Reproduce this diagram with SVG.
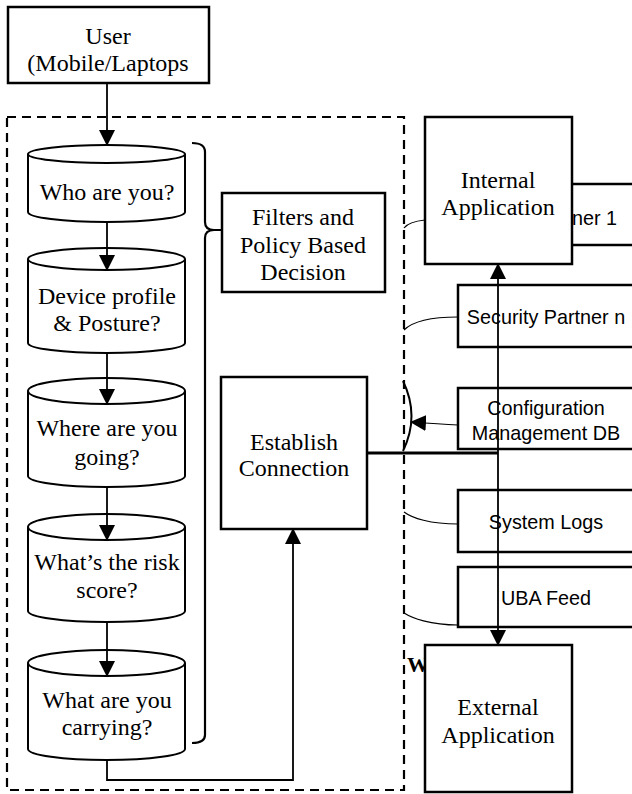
<svg xmlns="http://www.w3.org/2000/svg" width="632" height="794" viewBox="0 0 632 794">
<style>
.box{fill:#fff;stroke:#000;stroke-width:2.5}
.cyl{fill:#fff;stroke:#000;stroke-width:2}
.t{font-family:"Liberation Serif","Times New Roman",serif;font-size:24px;fill:#000;text-anchor:middle}
.s{font-family:"Liberation Sans",Arial,sans-serif;font-size:19.8px;fill:#000;text-anchor:middle}
.ln{fill:none;stroke:#000;stroke-width:1.8}
.thin{fill:none;stroke:#000;stroke-width:1.2}
</style>
<defs>
<marker id="ah" markerUnits="userSpaceOnUse" markerWidth="16" markerHeight="16" viewBox="0 0 16 16" refX="15" refY="8" orient="auto">
<path d="M0,0 L16,8 L0,16 Z" fill="#000"/>
</marker>
</defs>
<rect x="7" y="117" width="397" height="673" fill="none" stroke="#000" stroke-width="2.2" stroke-dasharray="9,6"/>
<g id="user"><rect class="box" x="8" y="7" width="201" height="76"/><text class="t" x="108" y="44">User</text><text class="t" x="108" y="71">(Mobile/Laptops</text></g>
<g id="cyl1"><path class="cyl" d="M28,154 A78.5,9 0 0 1 185,154 V212 A78.5,10 0 0 1 28,212 Z M28,154 A78.5,9 0 0 0 185,154"/><text class="t" x="107" y="200">Who are you?</text></g>
<g id="cyl2"><path class="cyl" d="M28,259 A78.5,11 0 0 1 185,259 V343 A78.5,10 0 0 1 28,343 Z M28,259 A78.5,11 0 0 0 185,259"/><text class="t" x="107" y="304">Device profile</text><text class="t" x="107" y="331">&amp; Posture?</text></g>
<g id="cyl3"><path class="cyl" d="M28,391 A78.5,13 0 0 1 185,391 V476 A78.5,11 0 0 1 28,476 Z M28,391 A78.5,13 0 0 0 185,391"/><text class="t" x="107" y="436">Where are you</text><text class="t" x="107" y="465">going?</text></g>
<g id="cyl4"><path class="cyl" d="M28,527 A78.5,13 0 0 1 185,527 V611 A78.5,11 0 0 1 28,611 Z M28,527 A78.5,13 0 0 0 185,527"/><text class="t" x="107" y="570">What’s the risk</text><text class="t" x="107" y="598">score?</text></g>
<g id="cyl5"><path class="cyl" d="M28,663 A78.5,13 0 0 1 185,663 V749 A78.5,11 0 0 1 28,749 Z M28,663 A78.5,13 0 0 0 185,663"/><text class="t" x="107" y="708">What are you</text><text class="t" x="107" y="735">carrying?</text></g>
<g id="filters"><rect class="box" x="222" y="193" width="163" height="99"/><text class="t" x="303" y="225">Filters and</text><text class="t" x="303" y="253">Policy Based</text><text class="t" x="303" y="280">Decision</text></g>
<g id="establish"><rect class="box" x="221" y="377" width="146" height="152"/><text class="t" x="294" y="450">Establish</text><text class="t" x="294" y="476">Connection</text></g>
<g id="sp1"><rect class="box" x="520" y="184" width="130" height="61"/><text class="s" x="617" y="225" style="text-anchor:end">Security Partner 1</text></g>
<g id="internal"><rect class="box" x="425" y="117" width="147" height="147"/><text class="t" x="498" y="188">Internal</text><text class="t" x="498" y="215">Application</text></g>
<g id="spn"><rect class="box" x="458" y="285" width="190" height="62"/><text class="s" x="546" y="324">Security Partner n</text></g>
<g id="cmdb"><rect class="box" x="458" y="388" width="190" height="61"/><text class="s" x="546" y="415">Configuration</text><text class="s" x="546" y="440">Management DB</text></g>
<g id="logs"><rect class="box" x="458" y="490" width="190" height="62"/><text class="s" x="546" y="529">System Logs</text></g>
<g id="uba"><rect class="box" x="458" y="567" width="190" height="60"/><text class="s" x="546" y="605">UBA Feed</text></g>
<text x="407" y="672" font-family="Liberation Serif,serif" font-size="22" font-weight="bold">W</text>
<g id="external"><rect class="box" x="425" y="645" width="147" height="147"/><text class="t" x="498" y="715">External</text><text class="t" x="498" y="743">Application</text></g>
<g id="connectors">
<path class="ln" d="M107,83 V145" marker-end="url(#ah)"/>
<path class="ln" d="M107,222 V270" marker-end="url(#ah)"/>
<path class="ln" d="M107,353 V404" marker-end="url(#ah)"/>
<path class="ln" d="M107,487 V540" marker-end="url(#ah)"/>
<path class="ln" d="M107,622 V676" marker-end="url(#ah)"/>
<path class="ln" d="M107,760 V780 H293 V529" marker-end="url(#ah)"/>
<path fill="none" stroke="#000" stroke-width="2.2" d="M192,143 Q205,143 205,152 V222 Q205,230 214,230 H222 M214,230 Q205,230 205,238 V735 Q205,743 192,743"/>
<path fill="none" stroke="#000" stroke-width="3" d="M367,453 H498"/>
<path class="ln" d="M498,453 V264" marker-end="url(#ah)"/>
<path class="ln" d="M498,453 V645" marker-end="url(#ah)"/>
<path fill="none" stroke="#000" stroke-width="2" d="M403,381 Q420,416 403,451"/>
<path class="thin" d="M458,425 Q440,424 411,422" marker-end="url(#ah)"/>
<path class="thin" d="M425,220 C415,221 407,224 404,228"/>
<path class="thin" d="M458,317 C430,317 412,322 404,330"/>
<path class="thin" d="M458,524 C430,524 412,518 404,512"/>
<path class="thin" d="M458,625 C430,625 412,618 404,613"/>
</g>
</svg>
